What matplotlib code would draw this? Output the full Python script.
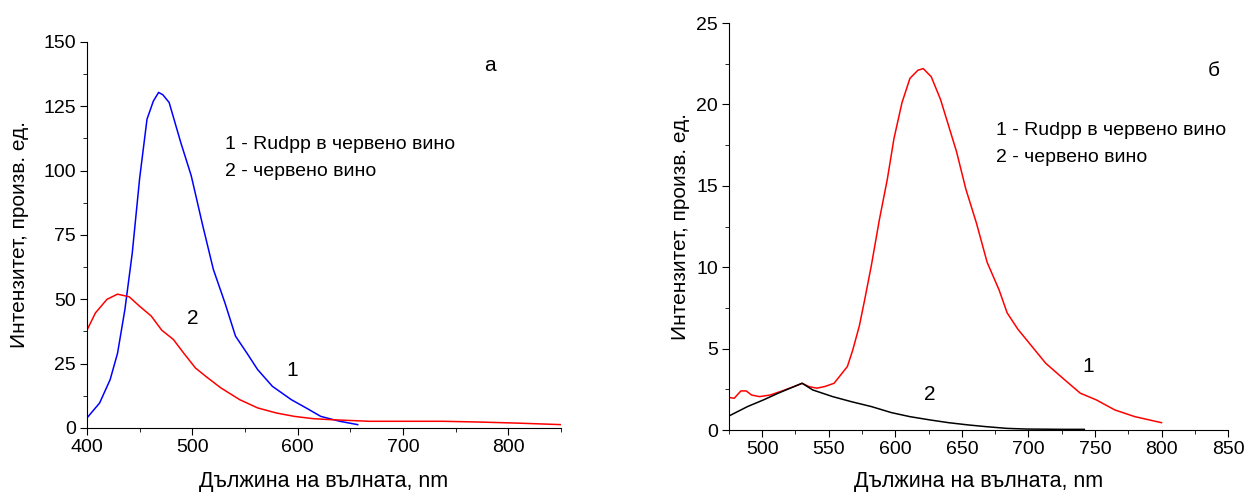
import matplotlib
matplotlib.use('Agg')
import matplotlib.pyplot as plt
from matplotlib.ticker import MultipleLocator

plt.rcParams['font.family'] = ['Liberation Sans', 'DejaVu Sans']

# panel a: curve 1 (Rudpp in red wine) and curve 2 (red wine)
waveA1 = [400, 412, 422, 429, 436, 443, 450, 457, 463, 468, 472, 478, 489, 499, 510,
          520, 531, 541, 552, 562, 576, 594, 608, 622, 640, 657]
intA1 = [3.9, 9.7, 18.8, 29, 46, 68, 97, 120, 127, 130.4, 129.5, 126.5, 111, 98, 78.5,
         61.6, 48.6, 35.7, 29, 22.7, 16.2, 11, 7.8, 4.5, 2.6, 1.3]
waveA2 = [400, 408, 419, 429, 440, 450, 461, 471, 482, 492, 503, 513, 527, 545, 562,
          580, 597, 615, 633, 668, 703, 738, 773, 808, 850]
intA2 = [38, 44.7, 50, 52, 51, 47.3, 43.5, 38, 34.4, 29, 23.3, 20, 15.6, 11, 7.8,
         5.8, 4.5, 3.6, 3.2, 2.6, 2.6, 2.6, 2.3, 1.9, 1.3]

# panel b
waveB1 = [475, 479, 484, 488, 492, 498, 506, 515, 524, 530, 535, 541, 547, 554, 558,
          564, 568, 573, 577, 582, 588, 594, 599, 605, 611, 617, 621, 627, 634, 640,
          646, 653, 661, 669, 678, 684, 692, 701, 713, 727, 739, 751, 765, 780, 800]
intB1 = [2.0, 1.95, 2.4, 2.4, 2.15, 2.05, 2.15, 2.4, 2.67, 2.87, 2.67, 2.57, 2.67, 2.87, 3.28,
         3.9, 4.9, 6.4, 8.0, 10.1, 12.9, 15.4, 17.9, 20.1, 21.6, 22.1, 22.2, 21.7, 20.3, 18.7,
         17.1, 14.8, 12.7, 10.3, 8.6, 7.2, 6.2, 5.3, 4.1, 3.1, 2.26, 1.85, 1.23, 0.82, 0.45]
waveB2 = [475, 489, 501, 512, 524, 530, 538, 553, 567, 582, 597, 611, 626, 640, 655,
          669, 684, 698, 727, 742]
intB2 = [0.86, 1.44, 1.85, 2.26, 2.67, 2.87, 2.46, 2.05, 1.74, 1.44, 1.07, 0.82, 0.62, 0.45, 0.31,
         0.2, 0.1, 0.06, 0.04, 0.04]

xlabel = 'Дължина на вълната, nm'
ylabel = 'Интензитет, произв. ед.'
legend1 = '1 - Rudpp в червено вино'
legend2 = '2 - червено вино'

fig = plt.figure(figsize=(12.46, 4.95), dpi=100)
axA = fig.add_axes([0.0698, 0.1354, 0.3804, 0.7798])
axB = fig.add_axes([0.585, 0.1313, 0.4006, 0.8222])

def style(ax, xpad, ypad):
    for s in ['top', 'right']:
        ax.spines[s].set_visible(False)
    ax.tick_params(which='major', direction='out', length=5, labelsize=14, pad=3)
    ax.tick_params(which='minor', direction='out', length=3)
    ax.set_xlabel(xlabel, fontsize=15.5, labelpad=xpad)
    ax.set_ylabel(ylabel, fontsize=15, labelpad=ypad)

axA.plot(waveA1, intA1, color='#0000ff', lw=1.1)
axA.plot(waveA2, intA2, color='#ff0000', lw=1.1)
axA.set_xlim(400, 850)
axA.set_ylim(0, 150)
axA.xaxis.set_major_locator(MultipleLocator(100))
axA.xaxis.set_minor_locator(MultipleLocator(50))
axA.yaxis.set_major_locator(MultipleLocator(25))
axA.yaxis.set_minor_locator(MultipleLocator(12.5))
style(axA, 11, 10)
axA.text(783, 141, 'а', fontsize=15, ha='center', va='center')
axA.text(531, 110, legend1, fontsize=14, va='center')
axA.text(531, 99.5, legend2, fontsize=14, va='center')
axA.text(595, 22.5, '1', fontsize=15, ha='center', va='center')
axA.text(500, 42.7, '2', fontsize=15, ha='center', va='center')

axB.plot(waveB1, intB1, color='#ff0000', lw=1.1)
axB.plot(waveB2, intB2, color='black', lw=1.1)
axB.set_xlim(475, 850)
axB.set_ylim(0, 25)
axB.xaxis.set_major_locator(MultipleLocator(50))
axB.xaxis.set_minor_locator(MultipleLocator(25))
axB.yaxis.set_major_locator(MultipleLocator(5))
axB.yaxis.set_minor_locator(MultipleLocator(2.5))
style(axB, 9, 4)
axB.text(839, 22.1, 'б', fontsize=15, ha='center', va='center')
axB.text(676, 18.4, legend1, fontsize=14, va='center')
axB.text(676, 16.75, legend2, fontsize=14, va='center')
axB.text(745, 3.9, '1', fontsize=15, ha='center', va='center')
axB.text(626, 2.2, '2', fontsize=15, ha='center', va='center')

fig.savefig('out.png', dpi=100)
